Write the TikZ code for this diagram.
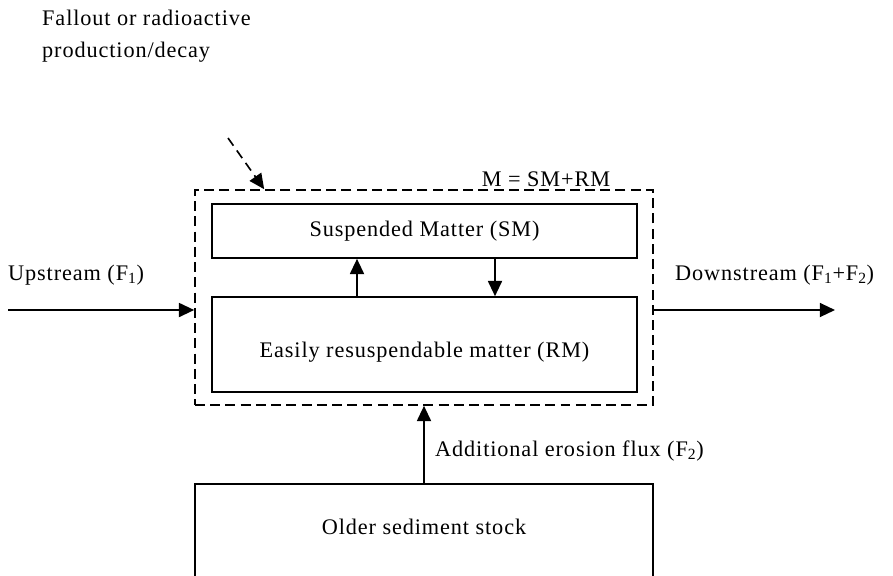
\documentclass[tikz,border=0pt]{standalone}
\usepackage{fontspec}
\setmainfont[LetterSpace=4]{Liberation Serif}
\usetikzlibrary{positioning}
\usetikzlibrary{calc, arrows.meta}
\tikzset{
  box/.style={rectangle,draw,line width=1.4pt},
  massbox/.style={rectangle,draw,line width=1.4pt,dash pattern=on 8.5pt off 4.5pt},
  flux/.style={line width=1.4pt,-{Triangle[length=13pt,width=12pt]}},
  dashflux/.style={flux,dash pattern=on 8pt off 5pt}
}

\begin{document}
\begin{tikzpicture}[x=0.03cm,y=-0.03cm,inner sep=0pt,font=\fontsize{19}{23}\selectfont]
\clip (0,0) rectangle (893,575);
\node[massbox,minimum width=13.74cm,minimum height=6.45cm] (mbox) at (424,297.5) {};
\node[box,minimum width=12.75cm,minimum height=1.62cm] (sm) at (424.5,231) {Suspended Matter (SM)};
\node[box,minimum width=12.75cm,minimum height=2.85cm] (rm) at (424.5,344.5) {};
\node (rmtext) at (424.5,352) {Easily resuspendable matter (RM)};
\node[box,minimum width=13.74cm,minimum height=4cm,anchor=north] (stock) at (424,483) {};
\node (stocktext) at (424,527) {Older sediment stock};

\draw[flux] ($(rm.north)+(-67.5,0)$) -- ($(sm.south)+(-67.5,0)$);
\draw[flux] ($(sm.south)+(70.5,0)$) -- ($(rm.north)+(70.5,0)$);

\coordinate (src) at (8,310);
\coordinate (sink) at (835,310);
\draw[flux] (src) -- (src -| mbox.west);
\draw[flux] (sink -| mbox.east) -- (sink);
\node[anchor=west] (upl) at (8,275) {Upstream (F\textsubscript{1})};
\node[anchor=west] (downl) at (675,275) {Downstream (F\textsubscript{1}+F\textsubscript{2})};

\node (mlabel) at (546,179) {M = SM+RM};
\node[anchor=west,align=left,font=\fontsize{19}{27}\selectfont] (fall) at (42,36) {Fallout or radioactive\\production/decay};
\coordinate (fallstart) at (228,138);
\draw[dashflux] (fallstart) -- ($(mbox.north west)+(70,0)$);

\draw[flux] (stock.north) -- (mbox.south);
\node[anchor=west] (erosion) at (435,451) {Additional erosion flux (F\textsubscript{2})};
\end{tikzpicture}
\end{document}
